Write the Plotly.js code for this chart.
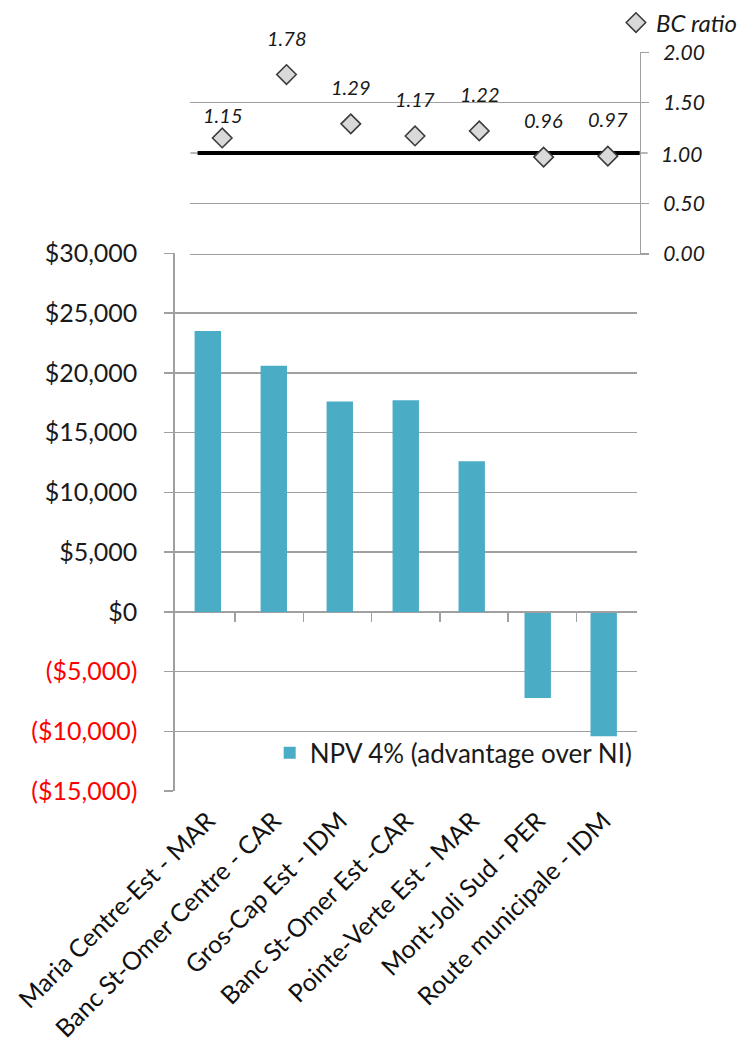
<!DOCTYPE html>
<html>
<head>
<meta charset="utf-8">
<script src="https://cdn.plot.ly/plotly-3.0.1.min.js"></script>
<style>html,body{margin:0;padding:0;background:#fff;}#chart{width:743px;height:1049px;}</style>
</head>
<body>
<div id="chart"></div>
<script>
// ---- data ----
const categories = [
  "Maria Centre-Est - MAR",
  "Banc St-Omer Centre - CAR",
  "Gros-Cap Est - IDM",
  "Banc St-Omer Est -CAR",
  "Pointe-Verte Est - MAR",
  "Mont-Joli Sud - PER",
  "Route municipale - IDM"
];
const npv = [23500, 20600, 17600, 17700, 12600, -7200, -10400];
const bcRatio = [1.15, 1.78, 1.29, 1.17, 1.22, 0.96, 0.97];
const npvTicks = [-15000, -10000, -5000, 0, 5000, 10000, 15000, 20000, 25000, 30000];
const bcTicks = [0, 0.5, 1, 1.5, 2];
const bcThreshold = 1;
const npvName = "NPV 4% (advantage over NI)";
const bcName = "BC ratio";

// ---- helpers (layout only) ----
const W = 743, H = 1049;
const px = p => p / W;
const py = p => (H - p) / H;
const money = v => {
  const s = "$" + Math.abs(v).toLocaleString("en-US");
  return v < 0 ? '<span style="color:#ff0000">(' + s + ')</span>' : s;
};

const FONT = "Lato, 'Open Sans', 'Noto Sans', sans-serif";
const GRID = "#a0a0a0";
const TOP_L = 191.7, TOP_R = 644;
const gridTicks = bcTicks.filter(v => v !== bcThreshold);

const traces = [
  {
    type: "bar", x: categories, y: npv, name: npvName,
    xaxis: "x", yaxis: "y", width: 0.4,
    marker: {color: "#4bacc6"}, hoverinfo: "skip", legend: "legend"
  },
  {
    type: "scatter", mode: "markers", x: categories, y: npv,
    xaxis: "x3", yaxis: "y", showlegend: false, hoverinfo: "skip",
    marker: {opacity: 0, size: 1}
  },
  {
    type: "scatter", mode: "markers", x: categories, y: bcRatio, name: bcName,
    xaxis: "x2", yaxis: "y2", hoverinfo: "skip", legend: "legend2",
    marker: {symbol: "diamond", size: 15, color: "#d9d9d9", line: {color: "#3c3c3c", width: 1.6}}
  }
];

const tickFontTop = {family: FONT, size: 21, style: "italic", color: "#1a1a1a"};

const annotations = bcRatio.map((v, i) => ({
  xref: "x2", yref: "y2", x: i, y: v,
  text: v.toFixed(2), showarrow: false,
  xanchor: "center", yanchor: "middle", yshift: i === 0 ? 23 : 37,
  font: {family: FONT, size: 20, style: "italic", color: "#1a1a1a"}
}));
// tick label for the threshold value (its grid line is replaced by the bold line)
annotations.push({
  xref: "x2 domain", yref: "y2", x: 1, y: bcThreshold,
  text: bcThreshold.toFixed(2), showarrow: false,
  xanchor: "left", yanchor: "middle", xshift: 19,
  font: tickFontTop
});

const layout = {
  width: W, height: H,
  margin: {l: 0, r: 0, t: 0, b: 0},
  paper_bgcolor: "#ffffff", plot_bgcolor: "rgba(0,0,0,0)",
  font: {family: FONT, color: "#1a1a1a"},
  xaxis: {
    domain: [px(176), px(641)], anchor: "y", type: "category",
    tickangle: -45, tickfont: {size: 25, color: "#111"},
    showline: false, ticks: "", showgrid: false, zeroline: false,
    ticklabelstandoff: 9
  },
  xaxis3: {
    domain: [px(176), px(641)], overlaying: "x", anchor: "free", position: py(610.7),
    type: "category", tickson: "boundaries", ticks: "outside", ticklen: 9,
    tickcolor: GRID, tickwidth: 1.5, showline: true, linecolor: GRID, linewidth: 1.5,
    showticklabels: false, showgrid: false, zeroline: false
  },
  yaxis: {
    domain: [py(790.5), py(251)], anchor: "x", range: [-15000, 30000],
    tickmode: "array", tickvals: npvTicks, ticktext: npvTicks.map(money),
    showline: true, linecolor: GRID, linewidth: 1.5,
    ticks: "outside", ticklen: 9, tickcolor: GRID, tickwidth: 1.5,
    showgrid: true, gridcolor: GRID, gridwidth: 1.5, zeroline: false,
    ticklabelstandoff: 22, tickfont: {size: 25, color: "#1a1a1a"}
  },
  xaxis2: {
    domain: [px(TOP_L), px(TOP_R)], anchor: "y2", type: "category",
    showticklabels: false, ticks: "", showgrid: false, zeroline: false,
    showline: true, linecolor: GRID, linewidth: 1.5
  },
  yaxis2: {
    domain: [py(251.5), py(49.5)], anchor: "x2", side: "right", range: [0, 2],
    tickmode: "array", tickvals: gridTicks, ticktext: gridTicks.map(v => v.toFixed(2)),
    showline: true, linecolor: GRID, linewidth: 1.5,
    ticks: "outside", ticklen: 8, tickcolor: GRID, tickwidth: 1.5,
    showgrid: true, gridcolor: GRID, gridwidth: 1.5, zeroline: false,
    ticklabelstandoff: 10,
    tickfont: tickFontTop
  },
  shapes: [
    { // grid line + tick at the threshold
      type: "line", xref: "x2 domain", yref: "y2",
      x0: 0, x1: 1 + 8 / (TOP_R - TOP_L), y0: bcThreshold, y1: bcThreshold,
      line: {color: GRID, width: 1.5}, layer: "below"
    },
    { // bold threshold line
      type: "line", xref: "x2 domain", yref: "y2",
      x0: 0.016, x1: 1, y0: bcThreshold, y1: bcThreshold,
      line: {color: "#000000", width: 4}, layer: "below"
    }
  ],
  annotations: annotations,
  legend: {
    x: px(642), xanchor: "right", y: py(752), yanchor: "middle",
    bgcolor: "rgba(0,0,0,0)", font: {size: 26, color: "#1a1a1a"},
    itemwidth: 30
  },
  legend2: {
    x: px(748), xanchor: "right", y: py(20), yanchor: "middle",
    bgcolor: "rgba(0,0,0,0)", font: {size: 24, style: "italic", color: "#1a1a1a"},
    itemwidth: 30
  },
  showlegend: true
};

Plotly.newPlot("chart", traces, layout, {staticPlot: true, displayModeBar: false});
</script>
</body>
</html>
